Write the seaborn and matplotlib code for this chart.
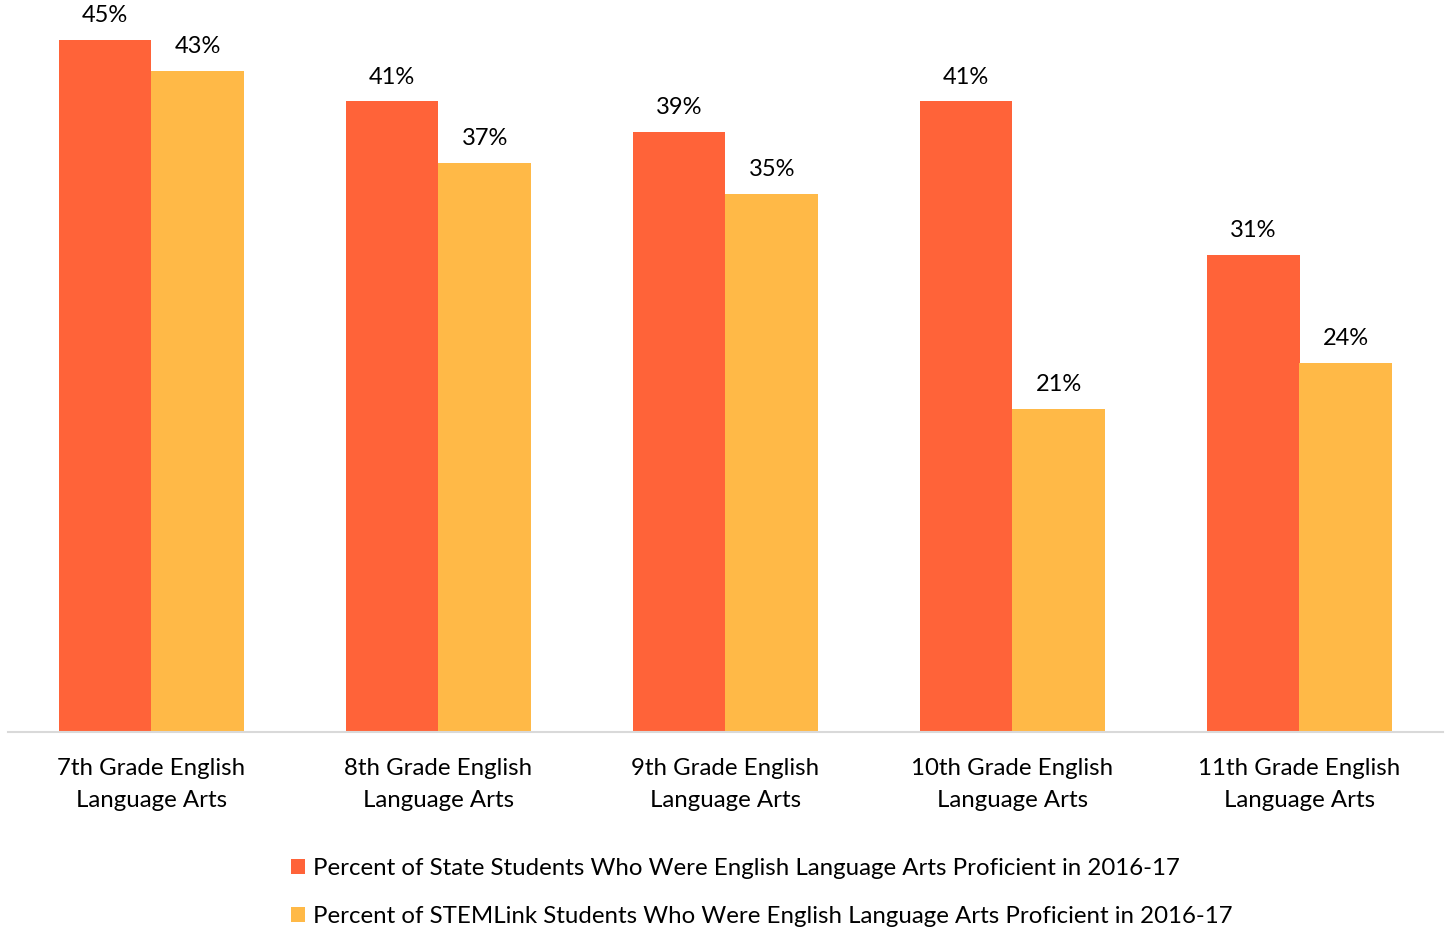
import matplotlib
matplotlib.use("Agg")
import matplotlib.pyplot as plt
from matplotlib.patches import Patch
import seaborn as sns
import pandas as pd

categories = [
    "7th Grade English\nLanguage Arts",
    "8th Grade English\nLanguage Arts",
    "9th Grade English\nLanguage Arts",
    "10th Grade English\nLanguage Arts",
    "11th Grade English\nLanguage Arts",
]
series_names = [
    "Percent of State Students Who Were English Language Arts Proficient in 2016-17",
    "Percent of STEMLink Students Who Were English Language Arts Proficient in 2016-17",
]
state_values = [45, 41, 39, 41, 31]
stemlink_values = [43, 37, 35, 21, 24]
colors = ["#FF6339", "#FFB947"]

df = pd.DataFrame({
    "category": categories * 2,
    "series": [series_names[0]] * len(categories) + [series_names[1]] * len(categories),
    "value": state_values + stemlink_values,
})

sns.set_theme(style="white")
plt.rcParams["font.family"] = ["Lato", "DejaVu Sans"]
plt.rcParams["text.color"] = "#000000"

fig = plt.figure(figsize=(14.49, 9.30), dpi=100)
ax = fig.add_axes([8 / 1449, 1 - 732 / 930, 1435 / 1449, 732 / 930])

sns.barplot(
    data=df, x="category", y="value", hue="series",
    order=categories, hue_order=series_names, palette=colors,
    width=0.648, saturation=1, ax=ax, legend=False, errorbar=None,
    linewidth=0,
)

for container in ax.containers:
    ax.bar_label(container, fmt="{:.0f}%", padding=10, fontsize=17, color="#000000")

ax.set_ylim(0, 47.6)
ax.set_xlim(-0.5, len(categories) - 0.5)
ax.set_xlabel("")
ax.set_ylabel("")
ax.set_yticks([])
ax.tick_params(axis="x", length=0, pad=19, labelsize=17.3, labelcolor="#000000")
for lbl in ax.get_xticklabels():
    lbl.set_linespacing(1.6)
for side in ["top", "left", "right"]:
    ax.spines[side].set_visible(False)
ax.spines["bottom"].set_color("#D9D9D9")
ax.spines["bottom"].set_linewidth(1.5)

handles = [Patch(facecolor=c, edgecolor="none") for c in colors]
fig.legend(
    handles, series_names, loc="upper left", bbox_to_anchor=(269 / 1449, 1 - 836 / 930),
    frameon=False, fontsize=17.3, handlelength=0.6, handleheight=0.6,
    handletextpad=0.35, labelspacing=1.15, borderpad=0.4, labelcolor="#000000",
)

fig.savefig("out.png", dpi=100)
